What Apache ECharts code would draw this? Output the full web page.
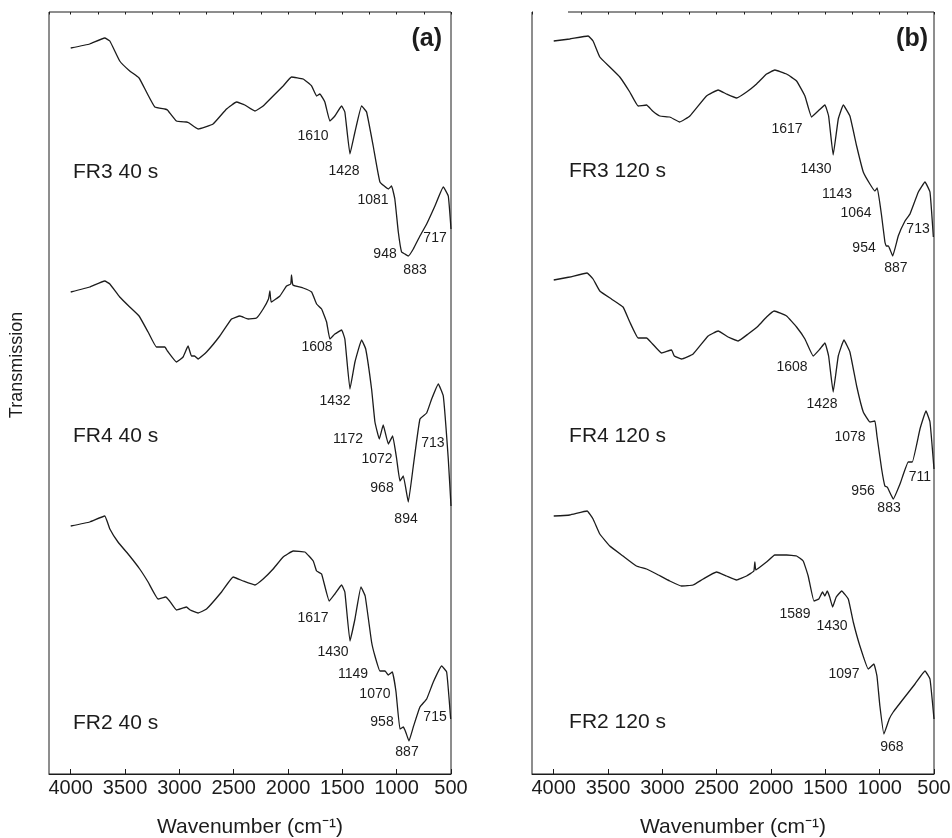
<!DOCTYPE html>
<html>
<head>
<meta charset="utf-8">
<title>FTIR spectra</title>
<script src="https://cdn.jsdelivr.net/npm/echarts@6/dist/echarts.min.js"></script>
<style>
  html, body { margin: 0; padding: 0; background: #fff; }
  #chart { width: 952px; height: 838px; }
</style>
</head>
<body>
<div id="chart"></div>
<script>
// spectra: [wavenumber (cm-1), transmission (a.u., traces already offset)]
const fr3_40 = [
  [4000, 72.6], [3825, 73.0], [3687, 73.6], [3640, 73.3], [3549, 71.3], [3457, 70.3],
  [3371, 69.6], [3303, 68.2], [3226, 66.7], [3134, 66.5], [3110, 66.4], [3027, 65.3],
  [2935, 65.2], [2910, 65.1], [2828, 64.5], [2690, 65.0], [2566, 66.5], [2474, 67.2],
  [2398, 66.9], [2305, 66.3], [2229, 66.8], [2137, 67.8], [2045, 68.8], [1968, 69.7],
  [1861, 69.5], [1783, 68.8], [1737, 67.8], [1707, 68.0], [1661, 67.2], [1615, 65.3],
  [1569, 65.8], [1507, 66.8], [1477, 66.2], [1430, 62.0], [1384, 64.2], [1323, 66.8],
  [1277, 66.2], [1216, 62.8], [1154, 59.2], [1077, 58.5], [1047, 58.8], [1017, 57.5],
  [985, 54.2], [955, 52.2], [924, 52.0], [893, 51.8], [847, 52.5], [786, 53.8],
  [724, 55.0], [648, 56.8], [571, 58.7], [525, 57.8], [500, 54.5]
];
const fr4_40 = [
  [4000, 48.2], [3825, 48.7], [3687, 49.3], [3640, 49.0], [3549, 47.7], [3457, 46.7],
  [3371, 45.8], [3288, 44.2], [3211, 42.7], [3134, 42.7], [3110, 42.3], [3027, 41.2],
  [2966, 41.7], [2920, 42.8], [2889, 41.8], [2860, 41.8], [2828, 41.5], [2750, 42.2],
  [2628, 43.8], [2520, 45.5], [2443, 45.8], [2367, 45.5], [2290, 45.6], [2229, 46.5],
  [2180, 47.5], [2167, 48.3], [2155, 47.2], [2075, 47.8], [2014, 48.8], [1975, 49.0],
  [1968, 49.9], [1955, 48.9], [1861, 48.6], [1783, 48.2], [1737, 47.0], [1691, 46.5],
  [1645, 45.2], [1615, 43.5], [1569, 44.0], [1507, 44.4], [1477, 43.5], [1430, 38.5],
  [1384, 41.2], [1323, 43.4], [1285, 42.5], [1231, 38.5], [1200, 35.2], [1160, 33.5],
  [1124, 34.9], [1077, 33.0], [1037, 33.8], [1000, 31.5], [970, 29.3], [939, 29.8],
  [893, 27.2], [847, 30.8], [786, 35.5], [724, 36.1], [678, 37.5], [617, 39.0],
  [571, 37.8], [525, 31.5], [500, 26.8]
];
const fr2_40 = [
  [4000, 24.8], [3825, 25.2], [3687, 25.8], [3640, 24.5], [3565, 23.2], [3457, 21.8],
  [3365, 20.5], [3288, 19.2], [3196, 17.5], [3125, 17.7], [3090, 17.3], [3027, 16.4],
  [2935, 16.7], [2900, 16.4], [2828, 16.1], [2750, 16.5], [2612, 18.2], [2505, 19.7],
  [2413, 19.3], [2305, 18.9], [2229, 19.5], [2137, 20.5], [2045, 21.7], [1953, 22.3],
  [1845, 22.2], [1768, 21.3], [1737, 20.3], [1691, 20.0], [1621, 17.3], [1569, 18.0],
  [1507, 18.9], [1477, 18.2], [1430, 13.3], [1384, 15.5], [1329, 18.7], [1290, 17.8],
  [1231, 13.2], [1200, 11.8], [1154, 10.3], [1108, 10.3], [1077, 9.9], [1040, 10.2],
  [1006, 8.2], [970, 4.5], [939, 4.7], [917, 4.2], [887, 3.3], [847, 4.7],
  [786, 6.7], [724, 7.5], [663, 9.2], [586, 10.8], [540, 10.2], [503, 5.5]
];
const fr3_120 = [
  [4000, 73.3], [3853, 73.5], [3684, 73.8], [3638, 73.3], [3576, 71.7], [3484, 70.7],
  [3392, 69.7], [3300, 68.2], [3223, 66.8], [3146, 66.9], [3090, 66.3], [3024, 65.8],
  [2932, 65.7], [2840, 65.2], [2747, 65.8], [2594, 67.8], [2487, 68.4], [2410, 68.0],
  [2317, 67.6], [2225, 68.2], [2133, 69.0], [2041, 70.0], [1965, 70.4], [1857, 70.0],
  [1765, 69.3], [1688, 67.8], [1627, 65.7], [1566, 66.3], [1504, 66.9], [1470, 65.8],
  [1428, 61.9], [1381, 65.5], [1335, 66.9], [1274, 65.8], [1212, 62.8], [1151, 60.2],
  [1090, 59.0], [1044, 58.3], [1022, 58.6], [982, 55.8], [952, 53.2], [940, 52.8],
  [920, 52.8], [880, 51.8], [829, 53.8], [767, 55.3], [721, 56.0], [644, 58.2],
  [583, 59.2], [537, 58.2], [506, 53.7]
];
const fr4_120 = [
  [4000, 49.4], [3853, 49.7], [3693, 50.1], [3638, 49.5], [3576, 48.3], [3469, 47.5],
  [3362, 46.7], [3300, 45.2], [3223, 43.6], [3146, 43.6], [3090, 43.0], [3008, 42.1],
  [2916, 42.4], [2890, 41.8], [2824, 41.5], [2717, 42.0], [2579, 43.8], [2487, 44.3],
  [2395, 43.7], [2303, 43.3], [2211, 44.0], [2118, 44.8], [2041, 45.7], [1971, 46.3],
  [1857, 45.8], [1765, 44.7], [1688, 43.5], [1612, 41.8], [1550, 42.5], [1504, 43.1],
  [1470, 41.8], [1428, 38.2], [1381, 41.8], [1329, 43.4], [1274, 42.2], [1212, 38.8],
  [1151, 36.2], [1090, 35.2], [1044, 35.3], [1025, 33.8], [982, 30.5], [952, 28.8],
  [930, 28.7], [875, 27.5], [813, 29.0], [737, 31.2], [700, 31.2], [629, 34.5],
  [574, 36.3], [537, 35.2], [500, 30.5]
];
const fr2_120 = [
  [4000, 25.8], [3853, 25.9], [3693, 26.3], [3638, 25.5], [3576, 24.0], [3484, 22.8],
  [3362, 21.8], [3239, 20.8], [3146, 20.5], [3054, 20.0], [2932, 19.3], [2824, 18.8],
  [2717, 18.9], [2625, 19.5], [2502, 20.2], [2410, 19.8], [2317, 19.4], [2225, 19.8],
  [2158, 20.3], [2149, 21.2], [2140, 20.4], [2041, 21.2], [1965, 21.9], [1857, 21.9],
  [1765, 21.8], [1704, 21.3], [1658, 19.8], [1605, 17.3], [1560, 17.5], [1526, 18.2],
  [1505, 17.8], [1483, 18.3], [1460, 17.7], [1433, 16.7], [1400, 17.7], [1350, 18.3],
  [1289, 17.5], [1243, 15.2], [1182, 12.8], [1105, 10.5], [1053, 11.0], [1025, 9.8],
  [998, 6.8], [961, 4.0], [912, 5.5], [875, 6.2], [783, 7.5], [675, 9.0],
  [583, 10.3], [537, 9.5], [500, 5.5]
];

// peak annotations: [text, wavenumber, transmission] where the label sits
const peaksA = [
  ['1610', 1770, 63.8], ['1428', 1485, 60.3], ['1081', 1218, 57.4], ['948', 1107, 52.0],
  ['883', 831, 50.4], ['717', 647, 53.6],
  ['1608', 1733, 42.7], ['1432', 1568, 37.3], ['1172', 1448, 33.5], ['1072', 1181, 31.5],
  ['968', 1135, 28.6], ['894', 914, 25.5], ['713', 666, 33.1],
  ['1617', 1770, 15.6], ['1430', 1586, 12.2], ['1149', 1402, 10.0], ['1070', 1200, 8.0],
  ['958', 1135, 5.2], ['887', 905, 2.2], ['715', 647, 5.7]
];
const peaksB = [
  ['1617', 1853, 64.5], ['1430', 1586, 60.5], ['1143', 1393, 58.0], ['1064', 1218, 56.1],
  ['954', 1144, 52.6], ['887', 850, 50.6], ['713', 647, 54.5],
  ['1608', 1807, 40.7], ['1428', 1531, 37.0], ['1078', 1273, 33.7], ['956', 1153, 28.3],
  ['883', 914, 26.6], ['711', 629, 29.7],
  ['1589', 1779, 16.0], ['1430', 1439, 14.8], ['1097', 1328, 10.0], ['968', 887, 2.7]
];
const samplesA = [['FR3 40 s', 3979, 60.2], ['FR4 40 s', 3979, 33.8], ['FR2 40 s', 3979, 5.1]];
const samplesB = [['FR3 120 s', 3859, 60.3], ['FR4 120 s', 3859, 33.8], ['FR2 120 s', 3859, 5.2]];

const FONT = 'Liberation Sans, Arial, Helvetica, sans-serif';
const INK = '#1c1c1c';

const chart = echarts.init(document.getElementById('chart'), null, { renderer: 'canvas' });

function mainAxis(gi) {
  return {
    type: 'value', gridIndex: gi, inverse: true, min: 500, max: 4200, interval: 500,
    name: 'Wavenumber (cm⁻¹)', nameLocation: 'middle', nameGap: 43,
    nameTextStyle: { fontFamily: FONT, fontSize: 21, color: INK },
    axisLine: { show: true, lineStyle: { color: INK, width: 1 } },
    axisTick: { show: true, inside: true, length: 5, lineStyle: { color: INK } },
    axisLabel: {
      fontFamily: FONT, fontSize: 20, color: INK, margin: 4, showMaxLabel: false,
      formatter: v => String(v)
    },
    splitLine: { show: false }
  };
}
function minorAxis(gi) {
  return {
    type: 'value', gridIndex: gi, inverse: true, min: 500, max: 4200, interval: 250,
    axisLine: { show: false },
    axisTick: { show: true, inside: true, length: 2.5, lineStyle: { color: INK } },
    axisLabel: { show: false },
    splitLine: { show: false }
  };
}
function yAxis(gi) {
  return {
    type: 'value', gridIndex: gi, min: 0, max: 76.2,
    axisLine: { show: false }, axisTick: { show: false },
    axisLabel: { show: false }, splitLine: { show: false }
  };
}
function spectrum(data, idx) {
  return {
    type: 'line', data: data, xAxisIndex: idx * 2, yAxisIndex: idx,
    showSymbol: false, symbol: 'none', smooth: 0.1,
    lineStyle: { color: INK, width: 1.3 }, silent: true
  };
}
function textLayer(items, idx, size, pos) {
  return {
    type: 'scatter', xAxisIndex: idx * 2, yAxisIndex: idx, symbolSize: 0, silent: true,
    itemStyle: { opacity: 1 },
    data: items.map(d => ({ name: d[0], value: [d[1], d[2]] })),
    label: {
      show: true, position: pos, distance: 0, formatter: '{b}', opacity: 1,
      fontFamily: FONT, fontSize: size, color: INK
    }
  };
}

chart.setOption({
  animation: false,
  backgroundColor: '#fff',
  grid: [
    { left: 49, top: 12, width: 402, height: 762, show: true, borderColor: INK, borderWidth: 1,
      outerBoundsMode: 'none', containLabel: false },
    { left: 532, top: 12, width: 402, height: 762, show: true, borderColor: INK, borderWidth: 1,
      outerBoundsMode: 'none', containLabel: false }
  ],
  xAxis: [mainAxis(0), minorAxis(0), mainAxis(1), minorAxis(1)],
  yAxis: [yAxis(0), yAxis(1)],
  series: [
    spectrum(fr3_40, 0), spectrum(fr4_40, 0), spectrum(fr2_40, 0),
    spectrum(fr3_120, 1), spectrum(fr4_120, 1), spectrum(fr2_120, 1),
    textLayer(peaksA, 0, 14, 'inside'), textLayer(peaksB, 1, 14, 'inside'),
    textLayer(samplesA, 0, 21, 'right'), textLayer(samplesB, 1, 21, 'right')
  ],
  graphic: [
    { type: 'text', x: 17, y: 365, rotation: Math.PI / 2,
      style: { text: 'Transmission', font: '18px ' + FONT, fill: INK, align: 'center', verticalAlign: 'middle' } },
    { type: 'text', x: 442, y: 39,
      style: { text: '(a)', font: 'bold 25px ' + FONT, fill: INK, align: 'right', verticalAlign: 'middle' } },
    { type: 'text', x: 928, y: 39,
      style: { text: '(b)', font: 'bold 25px ' + FONT, fill: INK, align: 'right', verticalAlign: 'middle' } },
    // the scanned frame of panel (b) has a gap at the top left
    { type: 'rect', shape: { x: 533, y: 9, width: 35, height: 6 }, style: { fill: '#fff' }, z: 100 }
  ]
});
</script>
</body>
</html>
